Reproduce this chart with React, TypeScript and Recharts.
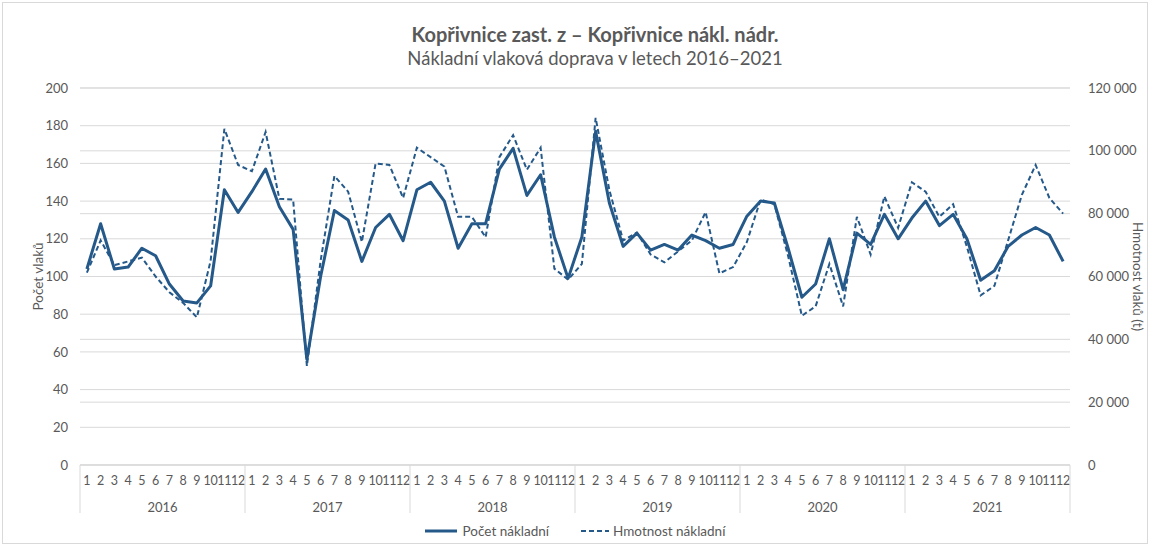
import React from "react";
import { CartesianGrid, ComposedChart, Legend, Line, XAxis, YAxis } from "recharts";

const years = ["2016", "2017", "2018", "2019", "2020", "2021"];
const months = ["1", "2", "3", "4", "5", "6", "7", "8", "9", "10", "11", "12"];

// Počet nákladní (left axis), Jan 2016 .. Dec 2021
const pocet = [
  104, 128, 104, 105, 115, 111, 96, 87, 86, 95, 146, 134,
  145, 157, 137, 125, 56, 100, 135, 130, 108, 126, 133, 119,
  146, 150, 140, 115, 128, 128, 157, 168, 143, 154, 121, 99,
  121, 177, 139, 116, 123, 114, 117, 114, 122, 119, 115, 117,
  132, 140, 139, 115, 89, 96, 120, 93, 123, 117, 133, 120,
  131, 140, 127, 133, 120, 98, 103, 116, 122, 126, 122, 108,
];

// Hmotnost nákladní in tonnes (right axis)
const hmotnost = [
  61200, 71500, 63600, 64800, 66000, 60000, 55000, 51600, 47000, 65000, 107000, 95500,
  93500, 106000, 84700, 84500, 31500, 65000, 92000, 87000, 71000, 96000, 95500, 85000,
  101000, 98000, 95000, 79000, 79000, 72500, 98000, 105000, 94000, 101000, 62500, 59000,
  64000, 110500, 87500, 71500, 74000, 67000, 64500, 68000, 71500, 80500, 61000, 63000,
  71000, 84500, 83000, 66500, 47500, 50500, 64000, 50500, 79000, 67000, 85500, 75500,
  90000, 87000, 79000, 83000, 69500, 54000, 57000, 71500, 86000, 95500, 85000, 80000,
];

const leftTicks = [0, 20, 40, 60, 80, 100, 120, 140, 160, 180, 200];
const rightTicks = [0, 20000, 40000, 60000, 80000, 100000, 120000];

const data = pocet.map((p, i) => ({
  key: i,
  pocet: p,
  hmotnost: hmotnost[i],
}));

const BLUE = "#24598a";
const GRID = "#d9d9d9";
const TEXT = "#595959";
const FONT = "Lato, 'Liberation Sans', sans-serif";
const PLOT_BOTTOM = 465;
const AXIS_BOTTOM = 513;

const fmtThousands = (v: number) => String(v).replace(/\B(?=(\d{3})+(?!\d))/g, " ");

function MonthTick(props: any) {
  const { x, payload } = props;
  return (
    <text x={x} y={PLOT_BOTTOM + 20} textAnchor="middle" fontSize={12.5} fill={TEXT} fontFamily={FONT}>
      {months[payload.value % 12]}
    </text>
  );
}

function YearTick(props: any) {
  const { x, payload } = props;
  const i = payload.value as number;
  const off = payload.offset || (1070 - 80) / 72 / 2;
  return (
    <g>
      {i % 12 === 0 && (
        <line x1={x - off} x2={x - off} y1={PLOT_BOTTOM} y2={AXIS_BOTTOM} stroke={GRID} />
      )}
      {i === data.length - 1 && (
        <line x1={x + off} x2={x + off} y1={PLOT_BOTTOM} y2={AXIS_BOTTOM} stroke={GRID} />
      )}
      {i % 12 === 5 && (
        <text x={x + off} y={PLOT_BOTTOM + 47} textAnchor="middle" fontSize={13} fill={TEXT} fontFamily={FONT}>
          {years[Math.floor(i / 12)]}
        </text>
      )}
    </g>
  );
}

function LegendContent() {
  return (
    <div style={{ display: "flex", justifyContent: "center", gap: 32, fontFamily: FONT, fontSize: 13.5, color: TEXT }}>
      <span style={{ display: "flex", alignItems: "center", gap: 6 }}>
        <svg width={32} height={6}>
          <line x1={0} x2={32} y1={3} y2={3} stroke={BLUE} strokeWidth={3} />
        </svg>
        Počet nákladní
      </span>
      <span style={{ display: "flex", alignItems: "center", gap: 4 }}>
        <svg width={28} height={6}>
          <line x1={0} x2={28} y1={3} y2={3} stroke={BLUE} strokeWidth={2} strokeDasharray="5 3" />
        </svg>
        Hmotnost nákladní
      </span>
    </div>
  );
}

export default function App() {
  return (
    <div style={{ position: "absolute", left: 0, top: 0, width: 1150, height: 546, background: "#fff" }}>
      <div
        style={{
          position: "absolute",
          left: 2,
          top: 2,
          width: 1144,
          height: 540,
          border: `1px solid ${GRID}`,
        }}
      />
      <div
        style={{
          position: "absolute",
          left: 0,
          top: 22,
          width: 1190,
          textAlign: "center",
          fontFamily: FONT,
          color: TEXT,
          lineHeight: "24px",
        }}
      >
        <div style={{ fontSize: 20, fontWeight: 700 }}>Kopřivnice zast. z – Kopřivnice nákl. nádr.</div>
        <div style={{ fontSize: 18.5 }}>Nákladní vlaková doprava v letech 2016–2021</div>
      </div>
      <ComposedChart width={1150} height={546} data={data} margin={{ top: 88, right: 0, left: 0, bottom: 33 }}>
        <CartesianGrid yAxisId="left" xAxisId="m" vertical={false} stroke={GRID} />
        <CartesianGrid yAxisId="right" xAxisId="m" vertical={false} stroke={GRID} />
        <XAxis
          xAxisId="m"
          dataKey="key"
          scale="band"
          interval={0}
          tickLine={false}
          axisLine={{ stroke: GRID }}
          height={26}
          tick={<MonthTick />}
        />
        <XAxis
          xAxisId="y"
          dataKey="key"
          scale="band"
          interval={0}
          tickLine={false}
          axisLine={false}
          height={22}
          tick={<YearTick />}
        />
        <YAxis
          yAxisId="left"
          width={80}
          domain={[0, 200]}
          ticks={leftTicks}
          tickLine={false}
          axisLine={false}
          tickMargin={6}
          tick={{ fill: TEXT, fontSize: 13, fontFamily: FONT }}
          label={{
            content: (p: any) => {
              const cx = p.viewBox.x + 38;
              const cy = p.viewBox.y + p.viewBox.height / 2;
              return (
                <text x={cx} y={cy} transform={`rotate(-90, ${cx}, ${cy})`} textAnchor="middle" dominantBaseline="central" fontSize={13.5} fill={TEXT} fontFamily={FONT}>
                  Počet vlaků
                </text>
              );
            },
          }}
        />
        <YAxis
          yAxisId="right"
          orientation="right"
          width={80}
          domain={[0, 120000]}
          ticks={rightTicks}
          tickLine={false}
          axisLine={false}
          tickMargin={12}
          tickFormatter={fmtThousands}
          tick={{ fill: TEXT, fontSize: 13, fontFamily: FONT }}
          label={{
            content: (p: any) => {
              const cx = p.viewBox.x + 68;
              const cy = p.viewBox.y + p.viewBox.height / 2;
              return (
                <text x={cx} y={cy} transform={`rotate(90, ${cx}, ${cy})`} textAnchor="middle" dominantBaseline="central" fontSize={13.5} fill={TEXT} fontFamily={FONT}>
                  Hmotnost vlaků (t)
                </text>
              );
            },
          }}
        />
        <Legend
          verticalAlign="middle"
          align="center"
          layout="horizontal"
          wrapperStyle={{ top: 523, left: 0, width: 1150 }}
          content={<LegendContent />}
        />
        <Line
          xAxisId="m"
          yAxisId="left"
          dataKey="pocet"
          name="Počet nákladní"
          stroke={BLUE}
          strokeWidth={3}
          dot={false}
          activeDot={false}
          isAnimationActive={false}
          strokeLinejoin="round"
        />
        <Line
          xAxisId="m"
          yAxisId="right"
          dataKey="hmotnost"
          name="Hmotnost nákladní"
          stroke={BLUE}
          strokeWidth={2}
          strokeDasharray="5 3"
          dot={false}
          activeDot={false}
          isAnimationActive={false}
        />
      </ComposedChart>
    </div>
  );
}
